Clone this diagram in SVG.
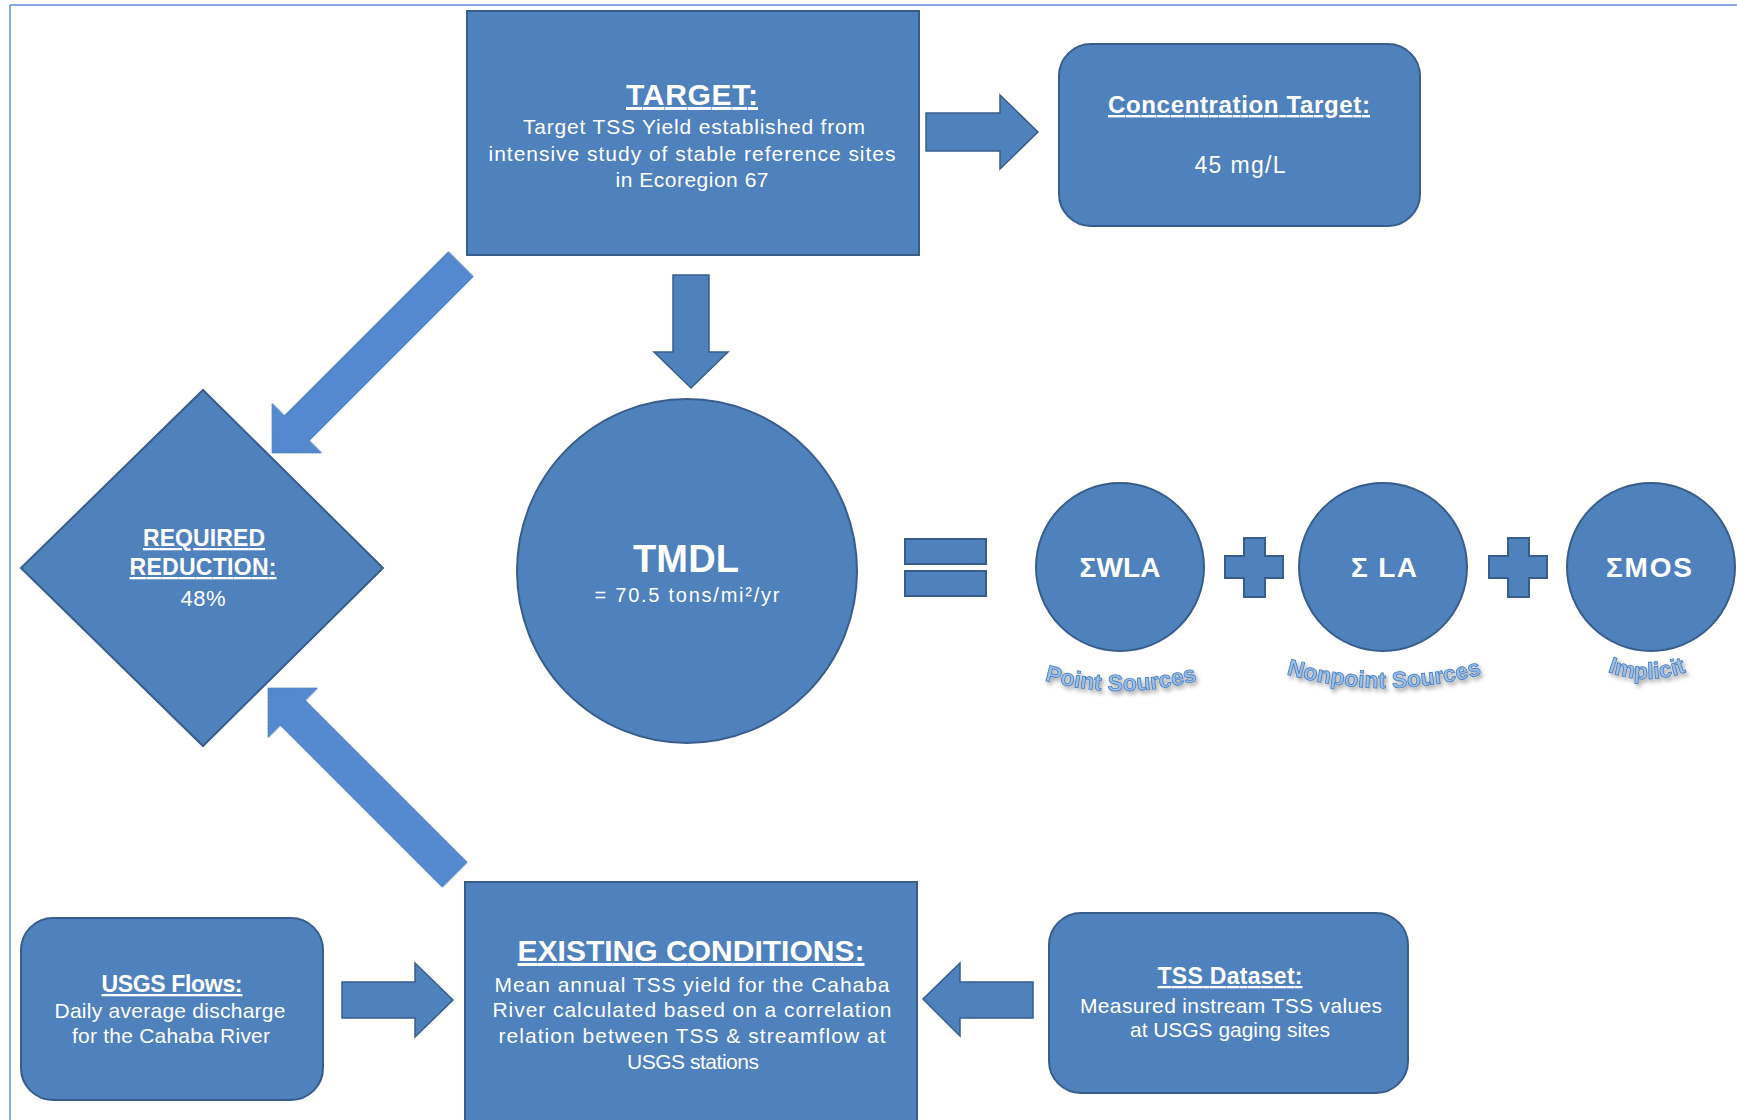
<svg xmlns="http://www.w3.org/2000/svg" width="1737" height="1120" viewBox="0 0 1737 1120">
<defs>
<style>
.node{fill:#4f81bd;stroke:#385d8a;stroke-width:2}
.arrow{fill:#4f81bd;stroke:#385d8a;stroke-width:1.5}
.darrow{fill:#5589cf;stroke:#4f81bd;stroke-width:1}
.t{font-family:"Liberation Sans",Arial,sans-serif;fill:#ffffff;text-anchor:middle}
.b{font-weight:bold}
.u{text-decoration:underline}
.lbl{font-family:"Liberation Sans",Arial,sans-serif;font-weight:bold;fill:#9cc0ea;stroke:#4f81bd;stroke-width:0.9;font-size:23px}
</style>
<filter id="shadow" x="-20%" y="-40%" width="140%" height="180%">
<feDropShadow dx="2" dy="3" stdDeviation="2" flood-color="#000" flood-opacity="0.35"/>
</filter>
<filter id="soft" x="-10%" y="-10%" width="120%" height="120%">
<feGaussianBlur stdDeviation="0.7"/>
</filter>
<path id="arcP" d="M1030,676 Q1121,706 1212,676"/>
<path id="arcN" d="M1272,670 Q1384,706 1496,670"/>
<path id="arcI" d="M1590,664 Q1647,694 1704,664"/>
</defs>
<rect x="0" y="0" width="1737" height="1120" fill="#ffffff"/>
<g id="frame" fill="none" stroke="#5b8ed6" stroke-width="1.5">
<line x1="10" y1="5" x2="1737" y2="5"/>
<line x1="10" y1="5" x2="10" y2="1120"/>
</g>

<g id="connectors">
<path class="arrow" d="M926,113 L1000,113 L1000,95 L1038,132 L1000,169 L1000,151 L926,151 Z"/>
<path class="arrow" d="M673,275 L709,275 L709,352 L728,352 L691,388 L654,352 L673,352 Z"/>
<path class="arrow" d="M342,982 L415,982 L415,963 L453,1000 L415,1037 L415,1018 L342,1018 Z"/>
<path class="arrow" d="M1033,982 L960,982 L960,963 L923,999 L960,1036 L960,1018 L1033,1018 Z"/>
<path class="darrow" filter="url(#soft)" transform="translate(272,453) rotate(-45)" d="M0,0 L35,-35 L35,-17.5 L267,-17.5 L267,17.5 L35,17.5 L35,35 Z"/>
<path class="darrow" filter="url(#soft)" transform="translate(268,688) rotate(45)" d="M0,0 L35,-35 L35,-17.5 L264,-17.5 L264,17.5 L35,17.5 L35,35 Z"/>
</g>

<g id="target">
<rect class="node" x="467" y="11" width="452" height="244"/>
<text class="t b u" x="692" y="105" font-size="30" textLength="132">TARGET:</text>
<text class="t" x="694" y="134" font-size="21" textLength="342">Target TSS Yield established from</text>
<text class="t" x="692" y="161" font-size="21" textLength="407">intensive study of stable reference sites</text>
<text class="t" x="692" y="187" font-size="21" textLength="153">in Ecoregion 67</text>
</g>

<g id="concentration">
<rect class="node" x="1059" y="44" width="361" height="182" rx="32" ry="32"/>
<text class="t b u" x="1239" y="113" font-size="24" textLength="262">Concentration Target:</text>
<text class="t" x="1240" y="173" font-size="23" textLength="91">45 mg/L</text>
</g>

<g id="reduction">
<polygon class="node" points="203,390 383,568 203,746 21,568"/>
<text class="t b u" x="204" y="546" font-size="23" textLength="122">REQUIRED</text>
<text class="t b u" x="203" y="575" font-size="23" textLength="147">REDUCTION:</text>
<text class="t" x="203" y="606" font-size="22" textLength="45">48%</text>
</g>

<g id="tmdl">
<ellipse class="node" cx="687" cy="571" rx="170" ry="172"/>
<text class="t b" x="686" y="572" font-size="38" textLength="106">TMDL</text>
<text class="t" x="687" y="602" font-size="20" textLength="185">= 70.5 tons/mi²/yr</text>
</g>

<g id="operators">
<rect class="node" x="905" y="539" width="81" height="25"/>
<rect class="node" x="905" y="571" width="81" height="25"/>
<path class="node" d="M1244,538 L1265,538 L1265,556 L1283,556 L1283,578 L1265,578 L1265,597 L1244,597 L1244,578 L1225,578 L1225,556 L1244,556 Z"/>
<path class="node" d="M1508,538 L1529,538 L1529,556 L1547,556 L1547,578 L1529,578 L1529,597 L1508,597 L1508,578 L1489,578 L1489,556 L1508,556 Z"/>
</g>

<g id="wla">
<circle class="node" cx="1120" cy="567" r="84"/>
<text class="t b" x="1120" y="577" font-size="28" textLength="81">ΣWLA</text>
<text class="lbl" filter="url(#shadow)"><textPath href="#arcP" startOffset="50%" text-anchor="middle">Point Sources</textPath></text>
</g>

<g id="la">
<circle class="node" cx="1383" cy="567" r="84"/>
<text class="t b" x="1384" y="577" font-size="28" textLength="66">Σ LA</text>
<text class="lbl" filter="url(#shadow)"><textPath href="#arcN" startOffset="50%" text-anchor="middle">Nonpoint Sources</textPath></text>
</g>

<g id="mos">
<circle class="node" cx="1651" cy="567" r="84"/>
<text class="t b" x="1649" y="577" font-size="28" textLength="86">ΣMOS</text>
<text class="lbl" filter="url(#shadow)"><textPath href="#arcI" startOffset="50%" text-anchor="middle">Implicit</textPath></text>
</g>

<g id="usgs-flows">
<rect class="node" x="21" y="918" width="302" height="182" rx="32" ry="32"/>
<text class="t b u" x="172" y="992" font-size="23" textLength="141">USGS Flows:</text>
<text class="t" x="170" y="1018" font-size="21" textLength="231">Daily average discharge</text>
<text class="t" x="171" y="1043" font-size="21" textLength="198">for the Cahaba River</text>
</g>

<g id="existing">
<rect class="node" x="465" y="882" width="452" height="260"/>
<text class="t b u" x="691" y="961" font-size="30" textLength="347">EXISTING CONDITIONS:</text>
<text class="t" x="692" y="992" font-size="21" textLength="395">Mean annual TSS  yield  for the Cahaba</text>
<text class="t" x="692" y="1017" font-size="21" textLength="399">River calculated  based on a correlation</text>
<text class="t" x="692" y="1043" font-size="21" textLength="387">relation between TSS &amp; streamflow  at</text>
<text class="t" x="693" y="1069" font-size="21" textLength="132">USGS stations</text>
</g>

<g id="tss-dataset">
<rect class="node" x="1049" y="913" width="359" height="180" rx="32" ry="32"/>
<text class="t b u" x="1230" y="984" font-size="23" textLength="145">TSS Dataset:</text>
<text class="t" x="1231" y="1013" font-size="21" textLength="302">Measured instream TSS values</text>
<text class="t" x="1230" y="1037" font-size="21" textLength="200">at USGS gaging sites</text>
</g>
</svg>
